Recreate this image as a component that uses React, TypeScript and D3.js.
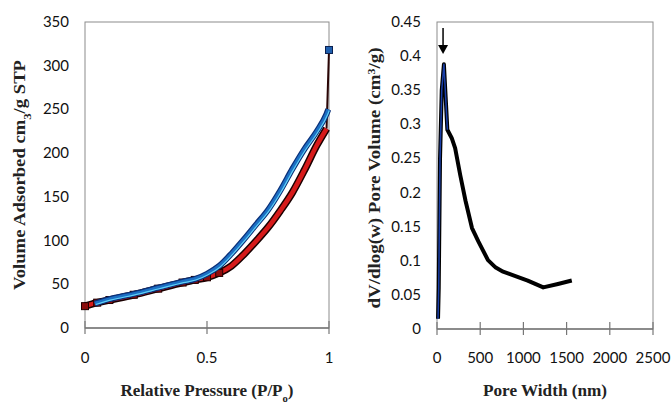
import React from "react";
import * as d3 from "d3";

// Left: nitrogen isotherm
const adsP = [0, 0.05, 0.1, 0.2, 0.3, 0.4, 0.45, 0.5, 0.55, 0.6, 0.65, 0.7, 0.75, 0.8, 0.85, 0.9, 0.95, 0.99];
const adsV = [25, 29, 32, 38, 45, 52, 55, 58, 63, 71, 84, 99, 115, 134, 155, 181, 209, 228];
const topP = [0.99, 1];
const topV = [228, 318];
const desP = [0.997, 0.99, 0.95, 0.9, 0.85, 0.8, 0.75, 0.7, 0.65, 0.6, 0.55, 0.5, 0.45, 0.4, 0.3, 0.2, 0.1, 0.04];
const desV = [250, 245, 225, 205, 182, 157, 135, 118, 101, 85, 71, 62, 56, 53, 46, 39, 33, 28];
const leftXTicks = [0, 0.5, 1];
const leftYTicks = [0, 50, 100, 150, 200, 250, 300, 350];

// Right: pore size distribution
const poreW = [12, 20, 35, 55, 80, 100, 120, 170, 210, 270, 330, 405, 480, 590, 680, 765, 900, 1050, 1230, 1400, 1560];
const poreV = [0.015, 0.06, 0.25, 0.35, 0.388, 0.34, 0.292, 0.28, 0.265, 0.225, 0.188, 0.148, 0.128, 0.101, 0.09, 0.084, 0.078, 0.071, 0.061, 0.066, 0.071];
const rightXTicks = [0, 500, 1000, 1500, 2000, 2500];
const rightYTicks = [0, 0.05, 0.1, 0.15, 0.2, 0.25, 0.3, 0.35, 0.4, 0.45];

const tickFont = "Lato, 'Open Sans', sans-serif";
const titleFont = "'Liberation Serif', 'Times New Roman', serif";

export default function App() {
  const lx = d3.scaleLinear().domain([0, 1]).range([85, 329]);
  const ly = d3.scaleLinear().domain([0, 350]).range([328, 22]);
  const rx = d3.scaleLinear().domain([0, 2500]).range([437, 653]);
  const ry = d3.scaleLinear().domain([0, 0.45]).range([329, 22]);

  const adsLine = d3.line<number>().x((_, i) => lx(adsP[i])).y((v) => ly(v)).curve(d3.curveMonotoneX);
  const topLine = d3.line<number>().x((_, i) => lx(topP[i])).y((v) => ly(v));
  const desLine = d3.line<number>().x((_, i) => lx(desP[i])).y((v) => ly(v)).curve(d3.curveMonotoneX);
  const poreLine = d3.line<number>().x((_, i) => rx(poreW[i])).y((v) => ry(v));
  const adsD = adsLine(adsV) || "";
  const topD = topLine(topV) || "";
  const desD = desLine(desV) || "";
  const poreD = poreLine(poreV) || "";
  const peakD = poreLine.defined((_, i) => i <= 6)(poreV) || "";

  return (
    <svg width={672} height={403} style={{ position: "absolute", left: 0, top: 0, background: "#fff" }}>
      <rect width={672} height={403} fill="#fff" />
      {/* Left chart frame */}
      <rect x={85} y={22} width={244} height={306} fill="none" stroke="#8c8c8c" strokeWidth={1} />
      <line x1={85} x2={329} y1={328} y2={328} stroke="#777" strokeWidth={1.5} />
      {leftXTicks.map((t) => (
        <g key={t}>
          <line x1={lx(t)} x2={lx(t)} y1={321} y2={334} stroke="#777" strokeWidth={1.2} />
          <text x={lx(t)} y={363} textAnchor="middle" fontFamily={tickFont} fontSize={15} fill="#111">{t}</text>
        </g>
      ))}
      {leftYTicks.map((t) => (
        <text key={t} x={69} y={ly(t) + 5} textAnchor="end" fontFamily={tickFont} fontSize={15} fill="#111">{t}</text>
      ))}
      {/* adsorption (red) */}
      <path d={topD} fill="none" stroke="#2a0505" strokeWidth={2} />
      <path d={adsD} fill="none" stroke="#1a0000" strokeWidth={7.5} strokeLinejoin="round" />
      <path d={adsD} fill="none" stroke="#d61a1a" strokeWidth={4.5} strokeLinejoin="round" />
      {adsP.slice(0, 9).map((p, i) => (
        <rect key={i} x={lx(p) - 3.5} y={ly(adsV[i]) - 3.5} width={7} height={7} fill="#8b0d0d" stroke="#220000" strokeWidth={1} />
      ))}
      {/* desorption (blue) */}
      <path d={desD} fill="none" stroke="#0a2f78" strokeWidth={6} strokeLinejoin="round" />
      <path d={desD} fill="none" stroke="#1c6fc4" strokeWidth={3.5} strokeLinejoin="round" />
      <path d={desD} fill="none" stroke="#5fd0f5" strokeWidth={1.2} strokeLinejoin="round" transform="translate(1,1)" />
      <rect x={lx(1) - 3.5} y={ly(318) - 3.5} width={7} height={7} fill="#1f5fae" stroke="#0a2050" strokeWidth={1} />
      <text x={25} y={175} transform="rotate(-90 25 175)" textAnchor="middle" fontFamily={titleFont} fontWeight="bold" fontSize={16} fill="#222" textLength={230} lengthAdjust="spacingAndGlyphs">
        Volume Adsorbed cm<tspan baselineShift="sub" fontSize={11}>3</tspan>/g STP
      </text>
      <text x={207} y={396} textAnchor="middle" fontFamily={titleFont} fontWeight="bold" fontSize={16} fill="#222" textLength={173} lengthAdjust="spacingAndGlyphs">
        Relative Pressure (P/P<tspan baselineShift="sub" fontSize={10}>o</tspan>)
      </text>

      {/* Right chart frame */}
      <rect x={437} y={22} width={216} height={307} fill="none" stroke="#8c8c8c" strokeWidth={1} />
      <line x1={437} x2={653} y1={329} y2={329} stroke="#777" strokeWidth={1.5} />
      {rightXTicks.map((t) => (
        <g key={t}>
          <line x1={rx(t)} x2={rx(t)} y1={322} y2={335} stroke="#777" strokeWidth={1.2} />
          <text x={rx(t)} y={363} textAnchor="middle" fontFamily={tickFont} fontSize={15} fill="#111">{t}</text>
        </g>
      ))}
      {rightYTicks.map((t) => (
        <text key={t} x={421} y={ry(t) + 5} textAnchor="end" fontFamily={tickFont} fontSize={15} fill="#111">{t}</text>
      ))}
      <path d={poreD} fill="none" stroke="#000" strokeWidth={4} strokeLinejoin="round" />
      <path d={peakD} fill="none" stroke="#1a3fa8" strokeWidth={1.5} strokeLinejoin="round" />
      {/* arrow */}
      <line x1={rx(70)} x2={rx(70)} y1={28} y2={46} stroke="#000" strokeWidth={1.5} />
      <path d={`M${rx(70) - 5},${45} L${rx(70) + 5},${45} L${rx(70)},${54} Z`} fill="#000" />
      <text x={380} y={178} transform="rotate(-90 380 178)" textAnchor="middle" fontFamily={titleFont} fontWeight="bold" fontSize={16} fill="#222" textLength={261} lengthAdjust="spacingAndGlyphs">
        dV/dlog(w) Pore Volume (cm<tspan baselineShift="super" fontSize={10}>3</tspan>/g)
      </text>
      <text x={545} y={396} textAnchor="middle" fontFamily={titleFont} fontWeight="bold" fontSize={16} fill="#222" textLength={124} lengthAdjust="spacingAndGlyphs">
        Pore Width (nm)
      </text>
    </svg>
  );
}
